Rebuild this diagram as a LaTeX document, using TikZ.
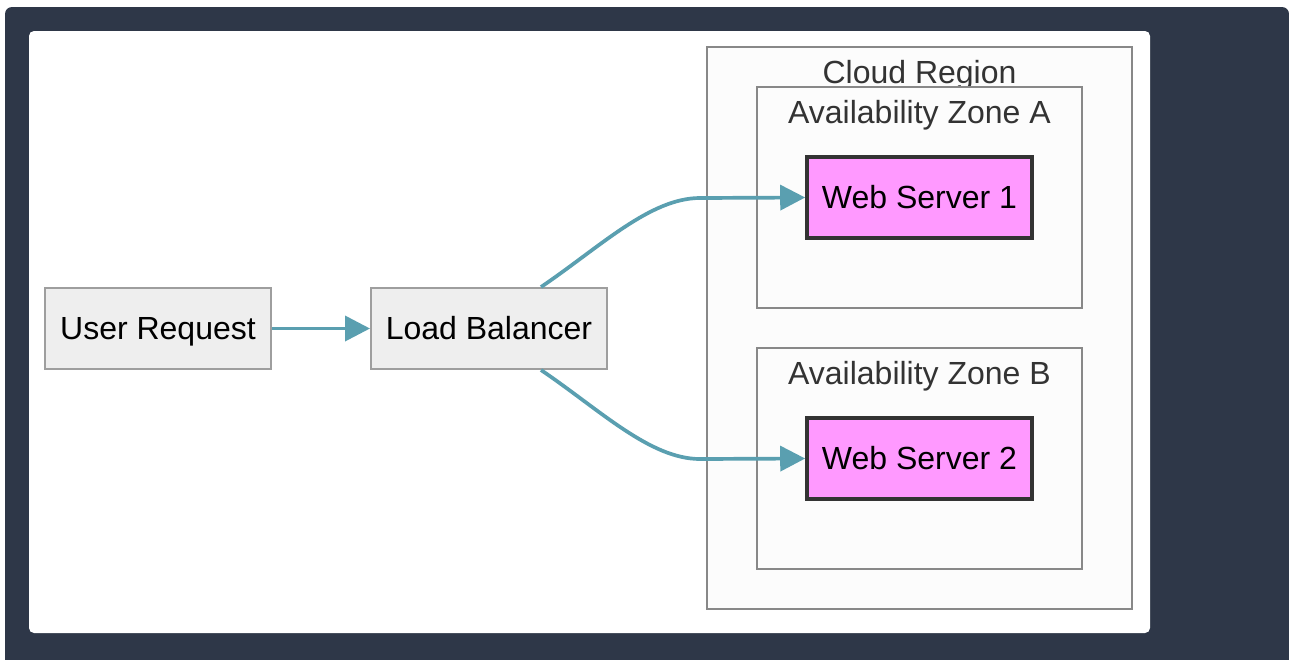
\documentclass[tikz,border=0pt]{standalone}
\usepackage{fontspec}
\setmainfont{Liberation Sans}
\usetikzlibrary{arrows.meta}
\definecolor{frame}{HTML}{2E3748}
\definecolor{nodefill}{HTML}{EEEEEE}
\definecolor{nodeline}{HTML}{9E9E9E}
\definecolor{groupfill}{HTML}{FCFCFC}
\definecolor{groupline}{HTML}{888888}
\definecolor{serverfill}{HTML}{FF99FF}
\definecolor{serverline}{HTML}{333333}
\definecolor{link}{HTML}{5A9FB0}
\definecolor{grouptext}{HTML}{333333}
\tikzset{
  labeltext/.style={font=\fontsize{32}{37}\selectfont, text height=23pt, text depth=2pt},
  basebox/.style={labeltext, draw=nodeline, fill=nodefill, line width=2pt, inner sep=0pt,
    minimum height=81pt, text=black},
  serverbox/.style={labeltext, draw=serverline, fill=serverfill, line width=3.6pt, inner sep=0pt,
    minimum width=225pt, minimum height=81pt, text=black},
  groupbox/.style={draw=groupline, fill=groupfill, line width=1.8pt},
  grouplabel/.style={labeltext, text=grouptext, inner sep=0pt},
  flow/.style={draw=link, line width=3.7pt, -{Triangle[length=25pt,width=25pt]}},
}
\begin{document}
\begin{tikzpicture}[x=1pt,y=-1pt]
\useasboundingbox (0,0) rectangle (1289,659);
% dark frame and white canvas
\fill[frame, rounded corners=7pt] (5,7) rectangle (1289,680);
\fill[white, rounded corners=5pt] (29,31) rectangle (1150,633);

% region and zones
\draw[groupbox] (707,47) rectangle (1132,609);
\node[grouplabel] (regionlbl) at (919.5,72.5) {Cloud Region};
\draw[groupbox] (757,87) rectangle (1082,308);
\node[grouplabel] (zonealbl) at (919.5,112.5) {Availability Zone A};
\draw[groupbox] (757,348) rectangle (1082,569);
\node[grouplabel] (zoneblbl) at (919.5,373.5) {Availability Zone B};

% nodes
\node[basebox, minimum width=226pt] (user) at (158,328.5) {User Request};
\node[basebox, minimum width=236pt] (lb) at (489,328.5) {Load Balancer};
\node[serverbox] (ws1) at (919.5,197.5) {Web Server 1};
\node[serverbox] (ws2) at (919.5,458.5) {Web Server 2};

% connectors
\draw[flow] (user.east) -- (lb.west);
\draw[flow] (lb.north) ++(52,0) coordinate (lbtop)
  .. controls +(59,-40) and (650,198) .. (700,198) -- (ws1.west);
\draw[flow] (lb.south) ++(52,0) coordinate (lbbot)
  .. controls +(59,40) and (650,459) .. (700,459) -- (ws2.west);
\end{tikzpicture}
\end{document}
